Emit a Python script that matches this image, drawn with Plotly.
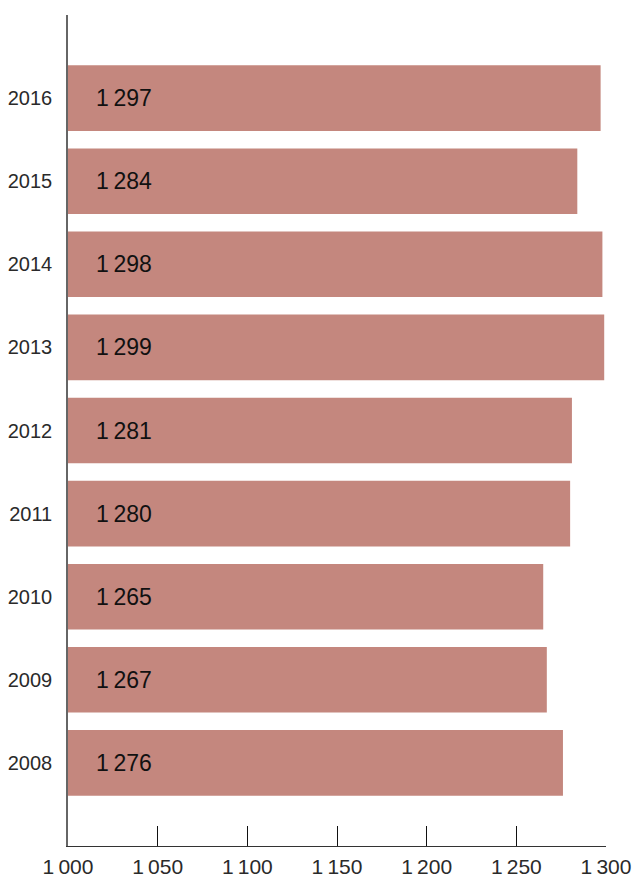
import plotly.graph_objects as go

years = [2008, 2009, 2010, 2011, 2012, 2013, 2014, 2015, 2016]
values = [1276, 1267, 1265, 1280, 1281, 1299, 1298, 1284, 1297]
x_ticks = [1000, 1050, 1100, 1150, 1200, 1250, 1300]

def fmt(v):
    s = f"{v:,}"
    return s.replace(",", "\u2009")

bar_color = "#C4877E"
font_family = "Liberation Sans, Arial, sans-serif"

fig = go.Figure()
fig.add_trace(go.Bar(
    x=values, y=years, orientation="h",
    base=0,
    marker=dict(color=bar_color, line=dict(width=0)),
    width=0.79,
    hoverinfo="skip",
))

for y, v in zip(years, values):
    fig.add_annotation(
        x=1000, y=y, text=fmt(v), showarrow=False,
        xanchor="left", yanchor="middle", xshift=26,
        font=dict(family=font_family, size=23, color="#111111"),
    )

fig.update_layout(
    width=636, height=880,
    margin=dict(l=68, r=30, t=15, b=34),
    paper_bgcolor="white", plot_bgcolor="white",
    showlegend=False,
    font=dict(family=font_family, color="#222222"),
)
fig.update_xaxes(
    range=[1000, 1300], automargin=False,
    tickvals=x_ticks, ticktext=[fmt(t) for t in x_ticks],
    ticks="inside", ticklen=20, tickwidth=1, tickcolor="#111111",
    showline=True, linecolor="#333333", linewidth=1,
    showgrid=False, zeroline=False,
    ticklabelstandoff=2,
    tickfont=dict(size=21, color="#2a2a2a"),
)
fig.update_yaxes(
    range=[2007, 2017], automargin=False,
    tickvals=years, ticktext=[str(y) for y in years],
    ticks="", showline=True, linecolor="#666666", linewidth=1.5,
    showgrid=False, zeroline=False,
    ticklabelstandoff=10,
    tickfont=dict(size=20, color="#2a2a2a"),
)

fig.write_html(
    "out.html",
    config={"displayModeBar": False},
    post_script="document.body.style.margin='0';document.body.style.overflow='hidden';",
)
